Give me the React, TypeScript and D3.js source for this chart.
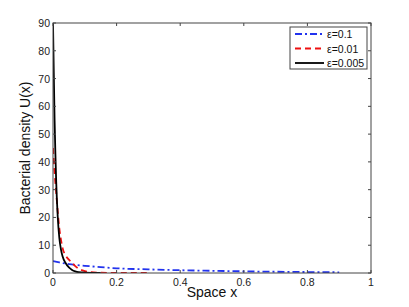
import React, { useEffect, useRef } from "react";
import * as d3 from "d3";

// values
const xBlue = [0, 0.02, 0.05, 0.1, 0.15, 0.2, 0.3, 0.4, 0.5, 0.6, 0.7, 0.8, 0.9];
const yBlue = [4.3, 3.8, 3.2, 2.6, 2.1, 1.7, 1.3, 1.0, 0.8, 0.6, 0.45, 0.35, 0.25];

const xRed = [0, 0.005, 0.01, 0.015, 0.02, 0.025, 0.03, 0.04, 0.05, 0.06, 0.07, 0.08, 0.1, 0.12, 0.15, 0.2, 0.3];
const yRed = [45, 36, 29, 22, 16, 12, 9, 6.3, 4.8, 3.7, 2.5, 1.6, 0.7, 0.3, 0.1, 0, 0];

const xBlack = [0, 0.0025, 0.005, 0.0075, 0.01, 0.015, 0.02, 0.025, 0.03, 0.04, 0.05, 0.06, 0.07, 0.08, 0.1, 0.15];
const yBlack = [90, 72, 55, 43, 33, 20, 12.5, 8.5, 6, 3.5, 2, 1.1, 0.6, 0.3, 0.1, 0];

const xTicks = [0, 0.2, 0.4, 0.6, 0.8, 1];
const yTicks = [0, 10, 20, 30, 40, 50, 60, 70, 80, 90];

const seriesNames = ["\u03b5=0.1", "\u03b5=0.01", "\u03b5=0.005"];
const seriesColors = ["#2233ee", "#ee1111", "#000000"];
const seriesDash = ["7,3,2,3", "6,4", null];

export default function App() {
  const ref = useRef<SVGSVGElement>(null);

  useEffect(() => {
    const svg = d3.select(ref.current);
    svg.selectAll("*").remove();

    const margin = { left: 53, top: 23, right: 38, bottom: 34 };
    const W = 409, H = 307;
    const x = d3.scaleLinear().domain([0, 1]).range([margin.left, W - margin.right]);
    const y = d3.scaleLinear().domain([0, 90]).range([H - margin.bottom, margin.top]);
    const font = "Liberation Sans, Arial, sans-serif";

    svg.append("rect").attr("width", W).attr("height", H).attr("fill", "#fff");

    svg.append("clipPath").attr("id", "clip").append("rect")
      .attr("x", x(0)).attr("y", y(90)).attr("width", x(1) - x(0)).attr("height", y(0) - y(90));

    const series = [
      { xs: xBlue, ys: yBlue },
      { xs: xRed, ys: yRed },
      { xs: xBlack, ys: yBlack },
    ];
    const line = d3.line<[number, number]>()
      .x(d => x(d[0])).y(d => y(d[1]))
      .curve(d3.curveMonotoneX);

    const plot = svg.append("g").attr("clip-path", "url(#clip)");
    series.forEach((s, i) => {
      plot.append("path")
        .attr("d", line(s.xs.map((v, j) => [v, s.ys[j]] as [number, number])))
        .attr("fill", "none")
        .attr("stroke", seriesColors[i])
        .attr("stroke-width", 1.8)
        .attr("stroke-dasharray", seriesDash[i]);
    });

    // box with inward ticks
    const axisColor = "#444";
    const g = svg.append("g");
    g.append("rect")
      .attr("x", x(0)).attr("y", y(90))
      .attr("width", x(1) - x(0)).attr("height", y(0) - y(90))
      .attr("fill", "none").attr("stroke", axisColor).attr("stroke-width", 1);
    xTicks.forEach(t => {
      g.append("line").attr("x1", x(t)).attr("x2", x(t)).attr("y1", y(0)).attr("y2", y(0) - 3).attr("stroke", axisColor);
      g.append("line").attr("x1", x(t)).attr("x2", x(t)).attr("y1", y(90)).attr("y2", y(90) + 3).attr("stroke", axisColor);
      g.append("text").attr("x", x(t)).attr("y", y(0) + 13)
        .attr("text-anchor", "middle").attr("font-family", font).attr("font-size", 10.5)
        .attr("fill", "#222").text(String(t));
    });
    yTicks.forEach(t => {
      g.append("line").attr("x1", x(0)).attr("x2", x(0) + 3).attr("y1", y(t)).attr("y2", y(t)).attr("stroke", axisColor);
      g.append("line").attr("x1", x(1)).attr("x2", x(1) - 3).attr("y1", y(t)).attr("y2", y(t)).attr("stroke", axisColor);
      g.append("text").attr("x", x(0) - 3).attr("y", y(t) + 4)
        .attr("text-anchor", "end").attr("font-family", font).attr("font-size", 10.5)
        .attr("fill", "#222").text(String(t));
    });

    g.append("text").attr("x", (x(0) + x(1)) / 2).attr("y", 297)
      .attr("text-anchor", "middle").attr("font-family", font).attr("font-size", 14)
      .attr("fill", "#111").text("Space x");
    g.append("text").attr("transform", `translate(30,${(y(0) + y(90)) / 2}) rotate(-90)`)
      .attr("text-anchor", "middle").attr("font-family", font).attr("font-size", 14)
      .attr("fill", "#111").text("Bacterial density U(x)");

    // legend
    const lg = svg.append("g");
    lg.append("rect").attr("x", 290).attr("y", 27).attr("width", 77).attr("height", 42)
      .attr("fill", "#fff").attr("stroke", axisColor).attr("stroke-width", 1);
    seriesNames.forEach((name, i) => {
      const yy = 34 + i * 14.5;
      lg.append("line").attr("x1", 295).attr("x2", 324).attr("y1", yy).attr("y2", yy)
        .attr("stroke", seriesColors[i]).attr("stroke-width", 1.8)
        .attr("stroke-dasharray", seriesDash[i]);
      lg.append("text").attr("x", 327).attr("y", yy + 4)
        .attr("font-family", font).attr("font-size", 10.5).attr("fill", "#111").text(name);
    });
  }, []);

  return (
    <svg ref={ref} width={409} height={307}
      style={{ position: "absolute", left: 0, top: 0, display: "block" }} />
  );
}
